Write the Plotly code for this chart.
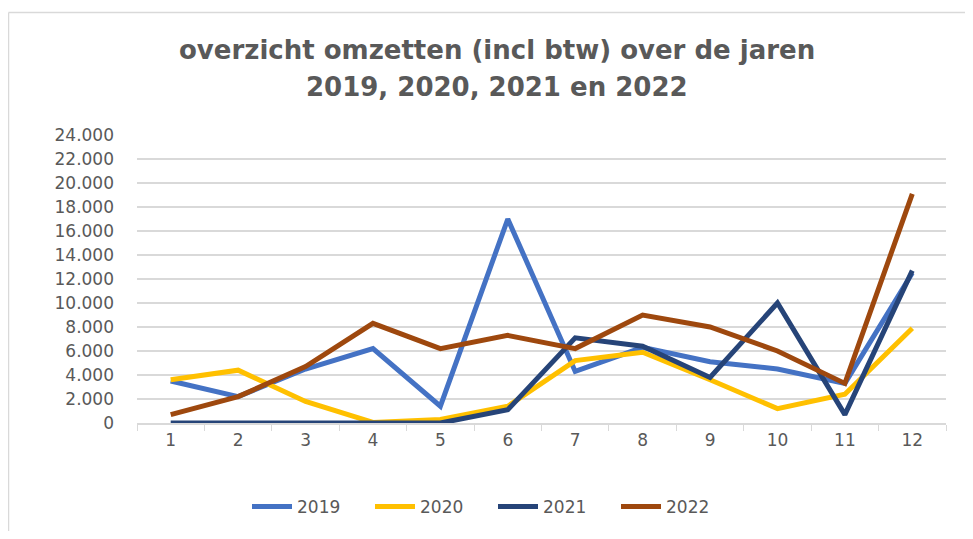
import plotly.graph_objects as go

months = ["1", "2", "3", "4", "5", "6", "7", "8", "9", "10", "11", "12"]
s2019 = [3500, 2200, 4500, 6200, 1400, 17000, 4300, 6300, 5100, 4500, 3300, 12500]
s2020 = [3600, 4400, 1800, 50, 300, 1400, 5200, 5900, 3600, 1200, 2400, 7900]
s2021 = [0, 0, 0, 100, 0, 1100, 7100, 6400, 3800, 10000, 700, 12700]
s2022 = [700, 2200, 4700, 8300, 6200, 7300, 6200, 9000, 8000, 6000, 3300, 19100]
series_names = ["2019", "2020", "2021", "2022"]
colors = ["#4472C4", "#FFC000", "#264478", "#9E480E"]
title1 = "overzicht omzetten (incl btw) over de jaren"
title2 = "2019, 2020, 2021 en 2022"

# page body has an 8px margin; work in screen coordinates and convert
OFF = 8
SW, SH = 973, 539
W, H = SW - 2 * OFF, SH - 2 * OFF
# plot area in screen coords
X0, X1, Y0, Y1 = 137, 946, 135, 423
L, R, T, B = X0 - OFF, W - (X1 - OFF), Y0 - OFF, H - (Y1 - OFF)
pw, ph = W - L - R, H - T - B


def px_x(sx):
    return (sx - OFF - L) / pw


def px_y(sy):
    return (H - B - (sy - OFF)) / ph


fig = go.Figure()
for name, vals, col in zip(series_names, [s2019, s2020, s2021, s2022], colors):
    fig.add_trace(go.Scatter(x=months, y=vals, name=name, mode="lines",
                             line=dict(color=col, width=5)))

fig.update_layout(
    width=W, height=H,
    margin=dict(l=L, r=R, t=T, b=B, autoexpand=False),
    paper_bgcolor="white", plot_bgcolor="white",
    separators=",.",
    font=dict(family="DejaVu Sans", color="#595959", size=17),
    showlegend=True,
    legend=dict(orientation="h", xref="container", yref="container",
                x=(493 - OFF) / W, y=1 - (507 - OFF) / H,
                xanchor="center", yanchor="middle",
                font=dict(size=17, color="#595959"),
                entrywidth=68, itemwidth=40),
    annotations=[
        dict(text=title1, xref="paper", yref="paper", x=px_x(497), y=px_y(50),
             xanchor="center", yanchor="middle", showarrow=False,
             font=dict(family="DejaVu Sans", size=26, color="#595959", weight="bold")),
        dict(text=title2, xref="paper", yref="paper", x=px_x(497), y=px_y(87),
             xanchor="center", yanchor="middle", showarrow=False,
             font=dict(family="DejaVu Sans", size=26, color="#595959", weight="bold")),
    ],
    shapes=[
        dict(type="line", xref="paper", yref="paper", x0=px_x(8.5), x1=px_x(SW + 20),
             y0=px_y(12.5), y1=px_y(12.5), line=dict(color="#D9D9D9", width=1.5)),
        dict(type="line", xref="paper", yref="paper", x0=px_x(8.5), x1=px_x(8.5),
             y0=px_y(12.5), y1=px_y(SH + 20), line=dict(color="#D9D9D9", width=1.5)),
    ],
)
fig.update_xaxes(type="category", range=[-0.5, 11.5], showgrid=False,
                 showline=True, linecolor="#D9D9D9", linewidth=1.5,
                 ticks="outside", tickson="boundaries", ticklen=6, tickcolor="#D9D9D9",
                 tickfont=dict(size=17, color="#595959"), ticklabelstandoff=1)
fig.update_yaxes(range=[0, 24000], dtick=2000, tickformat=",d",
                 showgrid=True, gridcolor="#D9D9D9", gridwidth=1.5,
                 zeroline=False, showline=False,
                 tickfont=dict(size=17, color="#595959"), ticklabelstandoff=22)

fig.write_html("out.html")
